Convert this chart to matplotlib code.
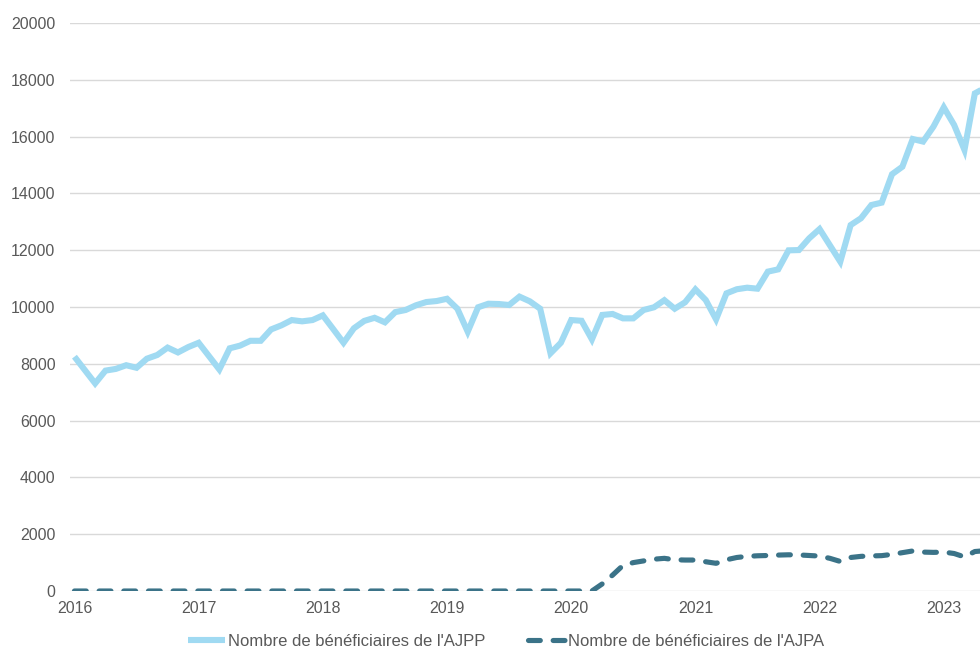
import matplotlib
matplotlib.use("Agg")
import matplotlib.pyplot as plt
import numpy as np
import pandas as pd

# Monthly data, Jan 2016 onward
ajpp = [8250, 7780, 7310, 7760, 7820, 7950, 7860, 8180, 8310, 8570, 8400, 8590,
        8740, 8270, 7800, 8545, 8640, 8810, 8810, 9210, 9355, 9540, 9495, 9540,
        9705, 9225, 8740, 9250, 9510, 9620, 9460, 9820, 9895, 10060, 10175, 10210,
        10290, 9940, 9130, 9990, 10115, 10105, 10070, 10365, 10200, 9940, 8370, 8740,
        9540, 9515, 8860, 9720, 9755, 9600, 9600, 9895, 9990, 10240, 9940, 10165,
        10620, 10245, 9565, 10480, 10625, 10680, 10645, 11245, 11325, 11995, 12005, 12420,
        12745, 12170, 11595, 12885, 13125, 13590, 13675, 14675, 14940, 15915, 15825, 16350,
        17030, 16410, 15530, 17520, 17720]
ajpa = [0] * 51 + [250, 560, 900, 1000, 1060, 1120, 1150, 1100, 1090,
        1090, 1030, 975, 1100, 1180, 1220, 1240, 1250, 1265, 1275, 1270, 1250,
        1230, 1150, 1040, 1180, 1220, 1235, 1245, 1290, 1350, 1410, 1370, 1360,
        1370, 1320, 1200, 1390, 1420]
years = ["2016", "2017", "2018", "2019", "2020", "2021", "2022", "2023"]
y_ticks = [0, 2000, 4000, 6000, 8000, 10000, 12000, 14000, 16000, 18000, 20000]
labels = ["Nombre de bénéficiaires de l'AJPP", "Nombre de bénéficiaires de l'AJPA"]

plt.rcParams['font.family'] = ['Liberation Sans', 'DejaVu Sans']

fig = plt.figure(figsize=(9.8, 6.5), dpi=100)
ax = fig.add_axes([70/980, 59/650, 910/980, 568/650])

x1 = np.arange(len(ajpp))
x2 = np.arange(len(ajpa))
l1, = ax.plot(x1, ajpp, color='#A0DAF2', lw=4.4, solid_joinstyle='miter',
              solid_capstyle='butt', label=labels[0], zorder=3)
l2, = ax.plot(x2, ajpa, color='#3B7388', lw=3.7, linestyle=(0, (2.3, 2.5)),
              dash_capstyle='round', label=labels[1], zorder=4)

ax.set_xlim(-0.43, 87.5)
ax.set_ylim(0, 20000)
ax.set_yticks(y_ticks)
ax.set_yticklabels([str(v) for v in y_ticks])
ax.set_xticks([12 * i for i in range(len(years))])
ax.set_xticklabels(years)
ax.grid(axis='y', color='#D9D9D9', lw=1)
ax.set_axisbelow(True)
for s in ax.spines.values():
    s.set_visible(False)
ax.tick_params(axis='both', length=0, labelsize=11.5, labelcolor='#595959')
ax.tick_params(axis='y', pad=10.5)
ax.tick_params(axis='x', pad=7)

fig.legend(handles=[l1, l2], labels=labels, loc='center', bbox_to_anchor=(506/980, 1 - 641/650),
           ncol=2, frameon=False, fontsize=12, handlelength=2.2, handletextpad=0.18,
           columnspacing=2.6, labelcolor='#595959')

fig.savefig("out.png", dpi=100)
